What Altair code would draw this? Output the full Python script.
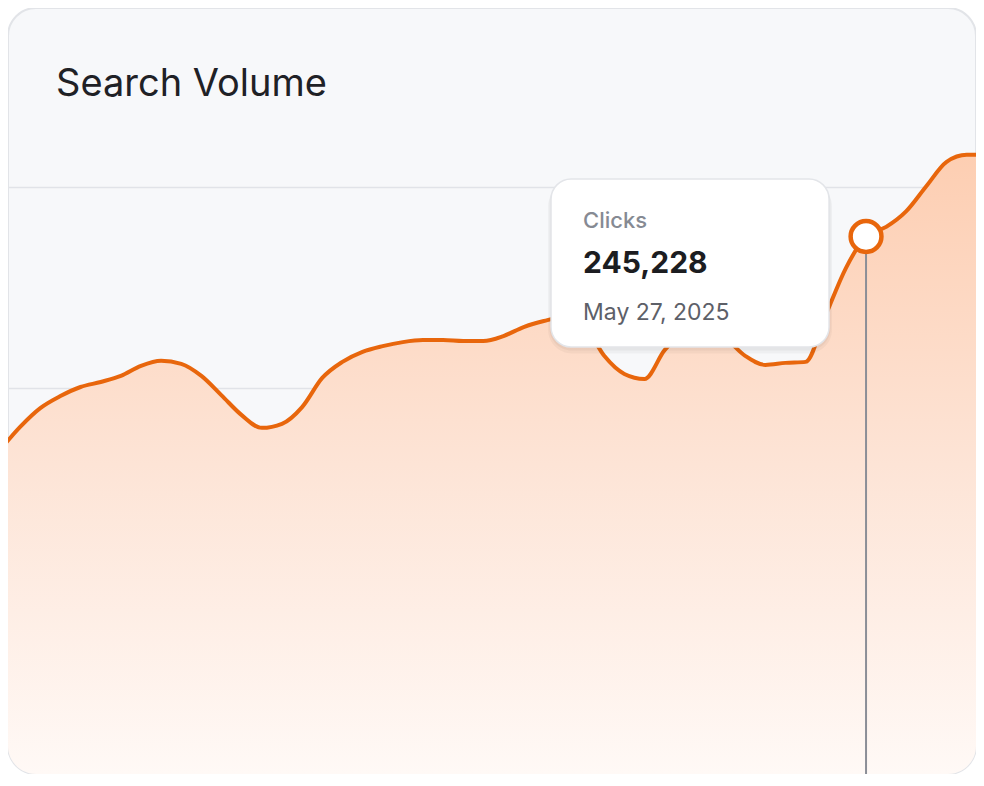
import altair as alt
import pandas as pd

# ---- data ----
START_DATE = "2025-04-14"
N_DAYS = 50
CLICKS = [
    181500, 188400, 194000, 197600, 200300, 201800, 203600, 206600, 208100, 207200,
    203600, 197800, 191900, 188100, 189300, 194300, 203000, 207800, 210800, 212500,
    213700, 214300, 214300, 214000, 214000, 215500, 218200, 220000, 221200, 218800,
    209600, 204200, 202700, 211300, 216700, 217300, 214900, 209600, 206900, 207500,
    207800, 221800, 235800, 245228, 248100, 252800, 260300, 267500, 269600, 269600,
]
SERIES_NAME = "Clicks"
HIGHLIGHT_DATE = "2025-05-27T00:00:00"
GRID_VALUES = [140000, 200000, 260000]
Y_DOMAIN = [84776, 313433]
X_DOMAIN = [
    alt.DateTime(year=2025, month=4, date=14, hours=9, minutes=32),
    alt.DateTime(year=2025, month=6, date=1, hours=11, minutes=2),
]

DATES = [d.strftime("%Y-%m-%dT00:00:00") for d in pd.date_range(START_DATE, periods=N_DAYS, freq="D")]
df = pd.DataFrame({"date": DATES, "clicks": CLICKS})
hi = df[df["date"] == HIGHLIGHT_DATE].copy()
hi["series"] = SERIES_NAME

ORANGE = "#e8660c"
FONT = "Inter"

x_enc = alt.X("date:T", scale=alt.Scale(domain=X_DOMAIN), axis=None)
y_enc = alt.Y(
    "clicks:Q",
    scale=alt.Scale(domain=Y_DOMAIN, zero=False, nice=False),
    axis=alt.Axis(values=GRID_VALUES, grid=True, labels=False, ticks=False,
                  domain=False, title=None, gridColor="#e1e3e8", gridWidth=1.6),
)

base = alt.Chart(df)

area = base.mark_area(
    interpolate="monotone",
    clip=True,
    color=alt.Gradient(
        gradient="linear",
        stops=[alt.GradientStop(color="#fff9f6", offset=0),
               alt.GradientStop(color="#fde4d6", offset=0.5),
               alt.GradientStop(color="#fdceb2", offset=1)],
        x1=1, x2=1, y1=1, y2=0,
    ),
).encode(x=x_enc, y=y_enc, y2=alt.datum(Y_DOMAIN[0]))

line = base.mark_line(interpolate="monotone", clip=True, color=ORANGE,
                      strokeWidth=4).encode(x="date:T", y="clicks:Q")

hb = alt.Chart(hi)

rule = hb.mark_rule(color="#8b8e97", strokeWidth=2, clip=True).encode(
    x="date:T", y="clicks:Q", y2=alt.datum(Y_DOMAIN[0])
)

point = hb.mark_circle(size=950, fill="white", stroke=ORANGE, strokeWidth=4.5,
                       opacity=1).encode(x="date:T", y="clicks:Q")

shadow1 = hb.mark_rect(color="#000000", opacity=0.035, cornerRadius=24,
                       xOffset=-318, x2Offset=-34, yOffset=-54, y2Offset=117).encode(
    x="date:T", x2="date:T", y="clicks:Q", y2="clicks:Q")
shadow2 = hb.mark_rect(color="#000000", opacity=0.04, cornerRadius=22,
                       xOffset=-316.5, x2Offset=-35.5, yOffset=-56, y2Offset=114).encode(
    x="date:T", x2="date:T", y="clicks:Q", y2="clicks:Q")

box = hb.mark_rect(fill="white", stroke="#e3e5e9", strokeWidth=1.5, cornerRadius=20,
                   xOffset=-315, x2Offset=-37, yOffset=-57.5, y2Offset=110.5).encode(
    x="date:T", x2="date:T", y="clicks:Q", y2="clicks:Q")

t_series = hb.mark_text(align="left", baseline="alphabetic", dx=-283, dy=-8.5,
                        font=FONT, fontSize=22, fontWeight=500, color="#868a93").encode(
    x="date:T", y="clicks:Q", text="series:N")
t_value = hb.mark_text(align="left", baseline="alphabetic", dx=-283, dy=36.5,
                       font=FONT, fontSize=30, fontWeight=700, color="#1c1d21").encode(
    x="date:T", y="clicks:Q", text=alt.Text("clicks:Q", format=","))
t_date = hb.mark_text(align="left", baseline="alphabetic", dx=-283, dy=83.5,
                      font=FONT, fontSize=23, fontWeight=400, color="#5d6068").encode(
    x="date:T", y="clicks:Q", text=alt.Text("date:T", format="%b %-d, %Y"))

chart = alt.layer(
    area, line, rule, point, shadow1, shadow2, box, t_series, t_value, t_date
).properties(
    width=968,
    height=766,
    padding=0,
    autosize=alt.AutoSizeParams(type="none"),
    background="#ffffff",
    title=alt.Title("Search Volume", anchor="start", frame="group", orient="top",
                    offset=0, dx=48, dy=126, baseline="alphabetic",
                    font=FONT, fontSize=38, fontWeight=400, color="#1f2126"),
).configure_view(
    fill="#f7f8fa", stroke="#e2e4e8", strokeWidth=2, cornerRadius=28
)

chart.save("out.html", embed_options={"renderer": "svg", "actions": False})
